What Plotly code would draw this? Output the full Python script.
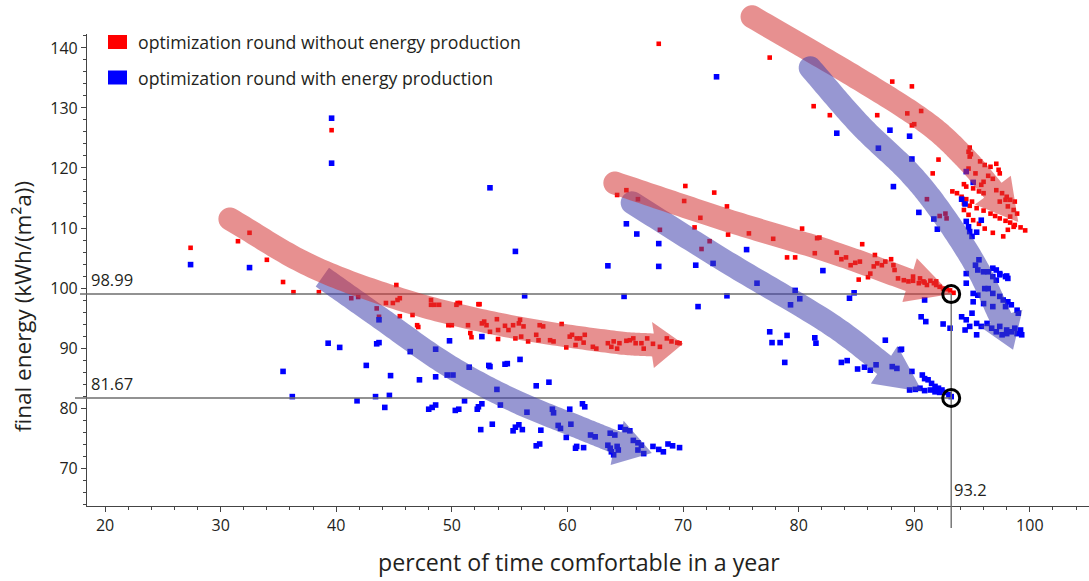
import numpy as np
import plotly.graph_objects as go

# ---------------------------------------------------------------- data
red_comfort = [
    27.4, 31.5, 32.5, 34.0, 35.4, 36.3, 38.5, 41.3, 41.9, 43.5, 43.7, 45.2, 44.3, 44.9, 45.3, 45.5,
    45.5, 46.6, 47.0, 47.1, 48.2, 48.2, 48.5, 48.9, 49.7, 50.0, 50.4, 50.5, 50.7, 51.4, 51.6, 51.7,
    52.3, 52.4, 52.6, 52.8, 53.0, 53.3, 53.9, 54.0, 54.0, 54.6, 54.9, 55.3, 55.5, 55.8, 55.9, 56.0,
    56.2, 56.6, 57.3, 57.5, 57.6, 57.9, 58.5, 58.8, 59.5, 59.9, 60.2, 60.4, 60.7, 60.8, 61.1, 61.4,
    61.5, 62.2, 62.5, 63.5, 63.8, 64.0, 64.3, 64.5, 65.1, 65.4, 65.7, 65.9, 66.4, 66.6, 66.9, 67.4,
    68.0, 68.6, 69.0, 69.5, 69.7,
    64.3, 65.1, 66.1, 70.2, 70.1, 72.7, 73.8, 71.5, 71.0, 72.3, 73.9, 75.7, 77.8, 80.3, 81.6, 81.8,
    81.4, 79.0, 79.7, 83.3, 83.7, 84.1, 84.5, 84.9, 85.3, 85.5, 85.2, 86.0, 86.2, 86.5, 86.6, 86.8,
    87.2, 87.5, 88.0, 88.2, 88.3, 88.6, 89.1, 89.5, 89.9, 90.4, 90.8, 91.1, 91.4, 91.7, 91.9, 92.2,
    92.5, 92.8, 93.1, 93.4, 89.9, 90.5, 90.9, 91.9, 68.0, 71.6,
    67.9, 77.5, 88.1, 89.8, 81.3, 82.7, 86.8, 90.6, 89.4, 89.8, 90.0, 92.1, 91.6, 91.1, 92.2, 92.7,
    92.8, 94.8, 94.7, 94.8, 94.9, 95.7, 96.1, 96.6, 97.1, 97.3, 97.4, 96.8, 96.4, 96.0, 95.8, 95.3,
    94.7, 94.3, 94.5, 95.1, 95.6, 96.0, 93.3, 93.7, 94.1, 94.5, 95.0, 94.3, 94.8, 95.4, 96.0, 96.6,
    97.0, 97.4, 97.9, 98.3, 98.7, 99.2, 99.6, 97.1, 97.6, 98.0, 98.3, 98.7, 97.9, 97.4, 98.1, 98.6,
    98.9, 98.3, 94.3, 94.7, 95.1, 95.6, 96.1, 96.8, 97.7, 98.1, 98.6, 39.6,
]
red_energy = [
    106.7, 107.8, 109.2, 104.7, 101.0, 99.3, 99.3, 98.3, 98.5, 96.6, 95.2, 100.5, 97.5, 97.5, 98.0, 98.3,
    95.3, 95.5, 93.8, 93.5, 98.0, 97.2, 97.2, 97.2, 93.8, 93.8, 97.2, 97.5, 97.5, 93.8, 92.5, 91.8,
    97.3, 97.3, 94.1, 94.4, 93.8, 92.7, 94.8, 93.0, 91.5, 93.7, 93.0, 93.8, 91.6, 94.1, 94.7, 91.9,
    93.6, 91.1, 92.2, 91.3, 93.8, 93.6, 91.3, 91.1, 94.0, 90.1, 91.9, 92.2, 90.5, 91.6, 91.6, 90.9,
    92.2, 90.2, 89.9, 90.8, 90.2, 91.1, 89.9, 90.8, 91.2, 91.3, 91.6, 90.8, 90.8, 89.9, 91.6, 90.7,
    90.2, 91.6, 91.1, 90.9, 90.8,
    115.5, 116.3, 114.8, 117.0, 114.5, 115.9, 113.6, 111.7, 110.1, 107.8, 108.9, 109.1, 108.2, 109.9, 108.3, 108.4,
    105.8, 105.1, 105.1, 105.9, 104.8, 105.1, 103.8, 104.2, 104.4, 107.3, 101.4, 101.8, 102.4, 103.6, 105.5, 104.1,
    103.8, 104.4, 104.8, 103.8, 103.0, 101.6, 101.3, 101.1, 101.2, 100.8, 101.1, 100.5, 101.2, 100.8, 100.5, 100.2,
    99.9, 99.8, 99.6, 99.2, 101.9, 101.6, 100.9, 101.1, 109.7, 106.5,
    140.7, 138.4, 134.4, 133.6, 130.3, 128.8, 128.8, 129.5, 129.1, 127.1, 127.3, 121.4, 119.1, 114.8, 112.0, 112.4,
    111.6, 123.4, 122.7, 121.9, 122.3, 121.1, 120.5, 120.2, 120.7, 119.7, 119.1, 118.2, 118.7, 117.7, 117.2, 119.1,
    119.9, 117.3, 116.9, 116.6, 116.1, 115.8, 116.1, 115.8, 115.2, 114.8, 114.4, 114.1, 113.7, 113.3, 112.9, 112.4,
    112.0, 111.6, 111.2, 110.9, 110.5, 110.1, 109.6, 116.3, 115.8, 115.2, 114.7, 114.4, 114.7, 114.4, 113.6, 113.0,
    112.4, 111.9, 113.0, 112.2, 111.3, 110.7, 109.9, 109.2, 108.6, 109.7, 110.2, 126.3,
]

blue_comfort = [
    27.4, 32.5, 35.4, 36.2, 39.3, 40.3, 43.7, 43.5, 43.7, 42.6, 41.8, 43.4, 44.6, 44.2, 44.7, 46.4,
    47.2, 48.0, 48.3, 48.6, 48.6, 48.6, 49.6, 50.1, 49.8, 50.3, 50.6, 51.1, 51.5, 52.2, 52.3, 52.6,
    52.6, 52.5, 53.5, 53.2, 53.3, 53.9, 54.2, 54.6, 54.8, 55.3, 55.5, 55.8, 56.1, 55.9, 56.3, 55.5,
    56.5, 57.3, 57.3, 57.6, 57.7, 58.4, 58.7, 58.8, 59.2, 59.4, 59.9, 60.2, 60.3, 60.7, 60.8, 61.3,
    61.5, 61.4, 62.0, 62.4, 63.5, 63.5, 63.7, 63.8, 64.0, 64.3, 64.4, 63.7, 64.1, 64.6, 65.0, 65.4,
    64.9, 65.1, 66.0, 65.7, 66.1, 66.4, 66.1, 66.6, 67.4, 67.9, 68.3, 68.7, 69.1, 69.7, 67.9, 67.9,
    71.1, 71.3, 39.6, 39.6, 53.3, 72.9, 72.6, 73.8, 75.5, 76.4, 77.5, 77.7, 78.4, 79.0, 78.8, 79.3,
    79.7, 80.1, 81.4, 81.5, 82.1, 84.4, 84.8, 83.7, 84.2, 85.1, 85.7, 86.2, 86.7, 87.5, 88.1, 88.5,
    88.8, 88.9, 89.8, 90.7, 90.9, 91.2, 91.5, 91.8, 92.1, 92.4, 92.7, 93.0, 93.2, 89.6, 90.1, 90.5,
    90.9, 91.4, 91.8, 92.2, 90.9, 90.6, 91.0, 92.5, 93.1, 88.2, 89.8, 90.4, 91.7, 92.0, 83.3, 87.9,
    89.6, 86.9, 94.1, 94.4, 94.5, 94.7, 94.8, 95.0, 95.4, 95.8, 94.5, 95.1,
    94.5, 95.3, 95.6, 95.5, 96.0, 96.4, 96.8, 97.1, 97.4, 97.9, 98.1, 94.5, 95.1, 95.5, 96.1, 96.4,
    96.8, 97.4, 97.7, 98.1, 98.4, 98.9, 99.0, 95.1, 96.0, 96.8, 97.9, 94.1, 94.5, 95.0, 95.4, 95.8,
    94.4, 94.8, 95.4, 96.3, 96.7, 97.1, 97.6, 98.0, 98.4, 98.9, 99.3, 97.4, 98.0, 98.7, 99.2, 96.8,
    97.1, 97.4, 98.0,
]
blue_energy = [
    103.9, 103.4, 86.1, 81.9, 90.8, 90.1, 94.7, 90.7, 90.9, 87.1, 81.2, 81.9, 82.1, 80.1, 85.4, 89.4,
    84.7, 79.8, 80.1, 80.5, 85.2, 89.8, 85.5, 85.5, 91.2, 79.6, 79.8, 81.2, 86.8, 79.8, 80.2, 80.7,
    91.9, 76.4, 77.3, 87.1, 86.9, 83.1, 80.5, 87.3, 87.4, 76.2, 76.8, 77.2, 76.4, 88.1, 98.7, 106.1,
    79.3, 83.7, 73.7, 74.0, 76.3, 84.3, 79.8, 79.2, 77.1, 76.6, 75.1, 79.8, 77.3, 73.3, 73.6, 80.7,
    80.2, 73.4, 75.5, 75.2, 103.7, 73.8, 73.3, 72.7, 72.2, 73.6, 73.0, 75.8, 75.5, 76.8, 76.4, 76.2,
    98.6, 110.7, 109.0, 74.6, 74.2, 73.8, 73.0, 72.4, 73.6, 73.1, 72.7, 74.0, 73.7, 73.4, 107.4, 103.6,
    103.8, 96.9, 128.3, 120.8, 116.7, 135.2, 104.1, 98.7, 106.4, 100.8, 92.7, 90.9, 90.9, 92.1, 87.6, 97.2,
    99.6, 98.2, 91.7, 90.8, 102.9, 98.3, 99.2, 87.6, 87.9, 86.5, 86.8, 86.3, 87.2, 91.3, 86.9, 86.6,
    89.7, 89.8, 86.1, 85.5, 84.9, 84.7, 84.1, 83.6, 83.3, 83.0, 82.6, 82.2, 81.9, 83.0, 83.1, 83.3,
    82.9, 83.0, 82.7, 82.6, 98.0, 95.2, 94.4, 94.0, 93.3, 116.9, 121.5, 112.6, 111.5, 109.8, 125.8, 126.3,
    125.3, 123.3, 114.8, 114.0, 111.1, 110.2, 109.4, 108.6, 109.3, 111.3, 119.4, 117.6,
    102.4, 103.8, 104.7, 103.0, 102.7, 102.7, 103.3, 103.0, 102.4, 101.9, 101.6, 100.8, 99.1, 98.8, 99.9, 99.9,
    99.1, 98.6, 98.0, 97.7, 97.2, 96.3, 95.8, 97.7, 97.4, 96.9, 96.9, 95.2, 94.7, 95.8, 94.1, 93.6,
    93.0, 93.6, 92.2, 94.1, 93.3, 92.7, 92.2, 92.4, 92.7, 92.4, 92.2, 93.6, 93.0, 93.3, 93.0, 101.9,
    101.3, 102.2, 102.0,
]

best_comfort = 93.2
best_energy = [98.99, 81.67]

x_ticks = [20, 30, 40, 50, 60, 70, 80, 90, 100]
y_ticks = [70, 80, 90, 100, 110, 120, 130, 140]

series_names = [
    "optimization round without energy production",
    "optimization round with energy production",
]

# ---------------------------------------------------------------- layout geometry
W, H = 1089, 581
MARGIN = dict(l=87, r=0, t=34, b=75)
XR = [18.44, 105.12]
YR = [63.67, 142.33]
PW = W - MARGIN["l"] - MARGIN["r"]
PH = H - MARGIN["t"] - MARGIN["b"]

FONT = "'Open Sans', 'Noto Sans', sans-serif"
INK = "#231f20"
RED_ARROW = "rgba(212,52,52,0.55)"
BLUE_ARROW = "rgba(62,62,172,0.54)"


def to_px(x, y):
    px = MARGIN["l"] + (np.asarray(x, float) - XR[0]) / (XR[1] - XR[0]) * PW
    py = MARGIN["t"] + (YR[1] - np.asarray(y, float)) / (YR[1] - YR[0]) * PH
    return px, py


def px_to_paper(px, py):
    return (np.asarray(px) - MARGIN["l"]) / PW, (H - MARGIN["b"] - np.asarray(py)) / PH


def catmull_rom(pts, n=24):
    P = np.asarray(pts, float)
    P = np.vstack([2 * P[0] - P[1], P, 2 * P[-1] - P[-2]])
    out = []
    for i in range(1, len(P) - 2):
        p0, p1, p2, p3 = P[i - 1], P[i], P[i + 1], P[i + 2]
        for t in np.linspace(0, 1, n, endpoint=False):
            t2, t3 = t * t, t * t * t
            out.append(0.5 * (2 * p1 + (-p0 + p2) * t + (2 * p0 - 5 * p1 + 4 * p2 - p3) * t2
                              + (-p0 + 3 * p1 - 3 * p2 + p3) * t3))
    out.append(P[-2])
    return np.array(out)


def arrow_path(guide, tip, half=11.5, head_half=23, round_start=True):
    gx, gy = zip(*guide)
    px, py = to_px(gx, gy)
    C = catmull_rom(np.column_stack([px, py]))
    T = np.gradient(C, axis=0)
    T /= np.linalg.norm(T, axis=1, keepdims=True)
    N = np.column_stack([-T[:, 1], T[:, 0]])
    left, right = C + N * half, C - N * half
    tx, ty = to_px(*tip)
    tipp = np.array([float(tx), float(ty)])
    base = C[-1]
    d = (tipp - base) / np.linalg.norm(tipp - base)
    nb = np.array([-d[1], d[0]])
    poly = []
    if round_start:
        for th in np.linspace(0, np.pi, 16):
            poly.append(C[0] - N[0] * half * np.cos(th) - T[0] * half * np.sin(th))
    poly.extend(left)
    poly.append(base + nb * head_half)
    poly.append(tipp)
    poly.append(base - nb * head_half)
    poly.extend(right[::-1])
    poly = np.array(poly)
    ax, ay = px_to_paper(poly[:, 0], poly[:, 1])
    return "M " + " L ".join(f"{a:.5f},{b:.5f}" for a, b in zip(ax, ay)) + " Z"


# trend arrows (guide curve in data units, ending at the arrow-head base)
arrows = [
    (BLUE_ARROW, [(38.8, 101.8), (43.8, 95.0), (49.6, 87.2), (55.3, 81.3), (61.1, 76.7), (64.3, 74.2)],
     (67.3, 72.5), False),
    (RED_ARROW, [(30.8, 111.5), (38.0, 103.5), (46.6, 97.5), (55.3, 93.5), (63.9, 91.0), (67.4, 90.5)],
     (70.0, 90.7), True),
    (BLUE_ARROW, [(65.6, 114.2), (73.8, 104.3), (82.5, 94.3), (87.4, 87.2)], (90.7, 82.7), True),
    (RED_ARROW, [(64.1, 117.5), (73.8, 111.3), (82.5, 106.2), (89.6, 101.3)], (93.2, 99.0), True),
    (RED_ARROW, [(75.97, 145.2), (85.3, 134.7), (91.1, 127.5), (94.4, 121.7), (96.8, 116.3)],
     (99.0, 111.0), True),
    (BLUE_ARROW, [(81.0, 136.7), (85.3, 127.2), (89.6, 119.2), (92.5, 112.2), (95.4, 103.5), (97.5, 95.0)],
     (98.55, 89.7), True),
]

# ---------------------------------------------------------------- figure
fig = go.Figure()
fig.add_trace(go.Scatter(x=red_comfort, y=red_energy, mode="markers", name=series_names[0],
                         marker=dict(symbol="square", size=4.6, color="#ff0000", line_width=0),
                         showlegend=False))
fig.add_trace(go.Scatter(x=blue_comfort, y=blue_energy, mode="markers", name=series_names[1],
                         marker=dict(symbol="square", size=5.6, color="#0000ff", line_width=0),
                         showlegend=False))

shapes = []
annotations = []

# reference lines to the two optima
cx, _ = to_px(best_comfort, best_energy[0])
for e, x_start in zip(best_energy, (80, 75)):
    _, ey = to_px(best_comfort, e)
    x0p, y0p = px_to_paper(x_start, ey)
    x1p, _ = px_to_paper(cx, ey)
    shapes.append(dict(type="line", xref="paper", yref="paper", x0=float(x0p), x1=float(x1p),
                       y0=float(y0p), y1=float(y0p), line=dict(color="#6e6e6e", width=1.4)))
    lx, ly = px_to_paper(89, ey - 1)
    annotations.append(dict(text=f"{e:.2f}", x=float(lx), y=float(ly), xref="paper", yref="paper",
                            xanchor="left", yanchor="bottom", showarrow=False,
                            font=dict(family=FONT, size=16.5, color=INK)))
_, top_y = to_px(best_comfort, best_energy[0])
vx, vy0 = px_to_paper(cx, top_y)
_, vy1 = px_to_paper(cx, 528)
shapes.append(dict(type="line", xref="paper", yref="paper", x0=float(vx), x1=float(vx),
                   y0=float(vy0), y1=float(vy1), line=dict(color="#6e6e6e", width=1.4)))
tx, ty = px_to_paper(cx + 1, 503)
annotations.append(dict(text=f"{best_comfort}", x=float(tx), y=float(ty), xref="paper", yref="paper",
                        xanchor="left", yanchor="bottom", showarrow=False,
                        font=dict(family=FONT, size=16.5, color=INK)))

for color, guide, tip, rnd in arrows:
    shapes.append(dict(type="path", xref="paper", yref="paper", path=arrow_path(guide, tip, round_start=rnd),
                       fillcolor=color, line=dict(width=0), layer="above"))

# rings around the optima
rx = 8.5 / (PW / (XR[1] - XR[0]))
ry = 8.5 / (PH / (YR[1] - YR[0]))
for e in best_energy:
    shapes.append(dict(type="circle", xref="x", yref="y", x0=best_comfort - rx, x1=best_comfort + rx,
                       y0=e - ry, y1=e + ry, line=dict(color="#000000", width=3), layer="above"))

# legend
for i, (name, col) in enumerate(zip(series_names, ["#ff0000", "#0000ff"])):
    cy = 42 + i * 35.5
    x0p, y0p = px_to_paper(108, cy + 7)
    x1p, y1p = px_to_paper(127, cy - 7)
    shapes.append(dict(type="rect", xref="paper", yref="paper", x0=float(x0p), x1=float(x1p),
                       y0=float(y0p), y1=float(y1p), fillcolor=col, line=dict(width=0)))
    lx, ly = px_to_paper(136, cy)
    annotations.append(dict(text=name, x=float(lx), y=float(ly), xref="paper", yref="paper",
                            xanchor="left", yanchor="middle", showarrow=False,
                            font=dict(family=FONT, size=17.7, color=INK)))

# axis titles
ax_, ay_ = px_to_paper(579, 562)
annotations.append(dict(text="percent of time comfortable in a year", x=float(ax_), y=float(ay_),
                        xref="paper", yref="paper", xanchor="center", yanchor="middle", showarrow=False,
                        font=dict(family=FONT, size=23.2, color=INK)))
ax_, ay_ = px_to_paper(22, 307)
annotations.append(dict(text="final energy (kWh/(m²a))", x=float(ax_), y=float(ay_), textangle=-90,
                        xref="paper", yref="paper", xanchor="center", yanchor="middle", showarrow=False,
                        font=dict(family=FONT, size=22.5, color=INK)))

axis_common = dict(showline=True, linecolor="#444444", linewidth=1.2, ticks="outside", ticklen=5,
                   tickcolor="#444444", tickwidth=1.2, showgrid=False, zeroline=False,
                   tickfont=dict(family=FONT, size=16, color=INK),
                   minor=dict(ticks="outside", ticklen=3, dtick=2, tickcolor="#444444", tickwidth=1))

fig.update_layout(
    width=W, height=H, margin=dict(l=MARGIN["l"], r=MARGIN["r"], t=MARGIN["t"], b=MARGIN["b"], pad=0),
    paper_bgcolor="white", plot_bgcolor="white", showlegend=False,
    xaxis=dict(range=XR, tickvals=x_ticks, **axis_common),
    yaxis=dict(range=YR, tickvals=y_ticks, **axis_common),
    shapes=shapes, annotations=annotations,
)

fig.write_html("out.html")
